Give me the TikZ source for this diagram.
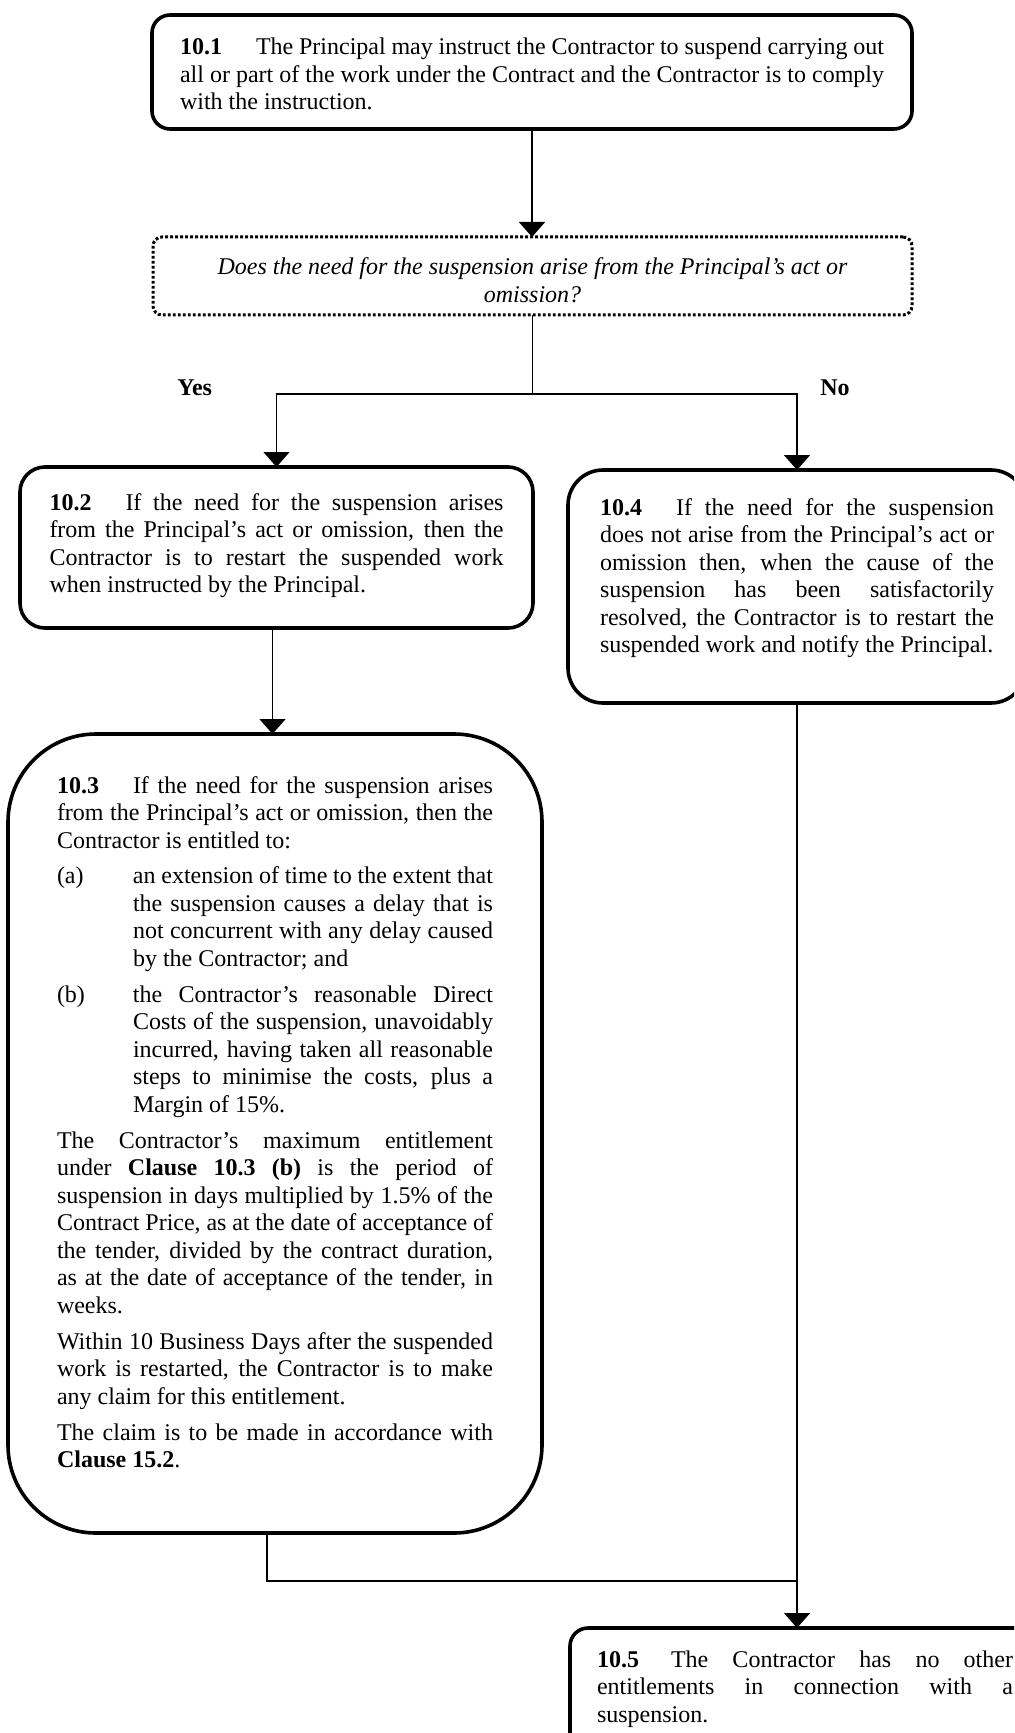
\documentclass[tikz,border=0pt]{standalone}
\usepackage{fontspec}
\setmainfont{Liberation Serif}
\usetikzlibrary{arrows.meta}
\newcommand{\setuptext}{\fontsize{12}{13.75}\selectfont\tolerance=10000\hbadness=10000\hyphenpenalty=10000\exhyphenpenalty=10000}
\newcommand{\lbl}[2][38pt]{\makebox[#1][l]{\textbf{#2}}}
\newcommand{\itm}[1]{\par\hangindent=38pt\hangafter=1\noindent\makebox[38pt][l]{#1}}
\newcommand{\pgap}{\par\vspace{4.2pt}}
\tikzset{
  box/.style={draw, line width=1.8pt, inner sep=0pt, outer sep=0pt, anchor=north west},
  qbox/.style={draw, line width=1.5pt, dash pattern=on 1.4pt off 1.1pt, inner sep=0pt, outer sep=0pt, anchor=north west, rounded corners=4.5pt},
  conn/.style={line width=0.8pt},
  arr/.style={conn, -{Triangle[width=13pt,length=7.5pt]}},
  lab/.style={inner sep=0pt, anchor=base west, font=\fontsize{12}{13.75}\selectfont\bfseries}
}
\begin{document}
\begin{tikzpicture}[x=0.5pt, y=-0.5pt]
\useasboundingbox (0,0) rectangle (1014,1733);
\fill[white] (0,0) rectangle (1014,1733);
\clip (0,0) rectangle (1014,1733);

\node[box, rounded corners=9pt, minimum width=380pt, minimum height=57pt] (b1) at (152,15)
 {\parbox[c][57pt][t]{352pt}{\setuptext\vspace*{10.375pt}\strut\lbl{10.1}The Principal may instruct the Contractor to suspend carrying out\linebreak
 all or part of the work under the Contract and the Contractor is to comply\linebreak
 with the instruction.}};

\node[qbox, minimum width=379.5pt, minimum height=39pt] (d) at (153,237)
 {\parbox[c][39pt][t]{370pt}{\setuptext\itshape\centering\vspace*{9.375pt}\strut Does the need for the suspension arise from the Principal’s act or\\omission?}};

\node[box, rounded corners=12.5pt, minimum width=256.5pt, minimum height=80.5pt] (b2) at (20,467)
 {\parbox[c][80.5pt][t]{227pt}{\setuptext\vspace*{11.875pt}\strut\lbl{10.2}If the need for the suspension arises\linebreak
 from the Principal’s act or omission, then the\linebreak
 Contractor is to restart the suspended work\linebreak
 when instructed by the Principal.}};

\node[box, rounded corners=17.5pt, minimum width=229pt, minimum height=116.5pt] (b4) at (568,470)
 {\parbox[c][116.5pt][t]{197pt}{\setuptext\vspace*{12.875pt}\strut\lbl{10.4}If the need for the suspension\linebreak
 does not arise from the Principal’s act or\linebreak
 omission then, when the cause of the\linebreak
 suspension has been satisfactorily\linebreak
 resolved, the Contractor is to restart the\linebreak
 suspended work and notify the Principal.}};

\node[box, rounded corners=44pt, minimum width=267pt, minimum height=399.5pt] (b3) at (8,734)
 {\parbox[c][399.5pt][t]{218pt}{\setuptext\vspace*{19.875pt}\strut\lbl{10.3}If the need for the suspension arises\linebreak
 from the Principal’s act or omission, then the\linebreak
 Contractor is entitled to:\pgap
 \itm{(a)}an extension of time to the extent that\linebreak the suspension causes a delay that is\linebreak not concurrent with any delay caused\linebreak by the Contractor; and\pgap
 \itm{(b)}the Contractor’s reasonable Direct\linebreak Costs of the suspension, unavoidably\linebreak incurred, having taken all reasonable\linebreak steps to minimise the costs, plus a\linebreak Margin of 15\%.\pgap
 The Contractor’s maximum entitlement\linebreak under \textbf{Clause 10.3 (b)} is the period of\linebreak suspension in days multiplied by 1.5\% of the\linebreak Contract Price, as at the date of acceptance of\linebreak the tender, divided by the contract duration,\linebreak as at the date of acceptance of the tender, in\linebreak weeks.\pgap
 Within 10 Business Days after the suspended\linebreak work is restarted, the Contractor is to make\linebreak any claim for this entitlement.\pgap
 The claim is to be made in accordance with\linebreak \textbf{Clause 15.2}.}};

\node[box, rounded corners=9pt, minimum width=235pt, minimum height=76pt] (b5) at (570,1628)
 {\parbox[c][76pt][t]{208pt}{\setuptext\vspace*{9.875pt}\strut\lbl[37pt]{10.5}The Contractor has no other\linebreak
 entitlements in connection with a\linebreak
 suspension.}};

\node[lab] (yes) at (177,395) {Yes};
\node[lab] (no) at (820,395) {No};

\draw[arr] (b1.south) -- (b1.south |- d.north);
\path (d.south) ++(0,79) coordinate (split);
\draw[conn] (d.south) -- (split);
\draw[arr] (split) -| (b2.north);
\draw[arr] (split) -| (b4.north);
\draw[arr] ([xshift=-2pt]b2.south) -- ([xshift=-2pt]b2.south |- b3.north);
\path ([xshift=-4pt]b3.south) ++(0,48) coordinate (m3);
\draw[conn] ([xshift=-4pt]b3.south) -- (m3) -- (m3 -| b4.south);
\draw[arr] (b4.south) -- (b4.south |- b5.north);
\end{tikzpicture}
\end{document}
